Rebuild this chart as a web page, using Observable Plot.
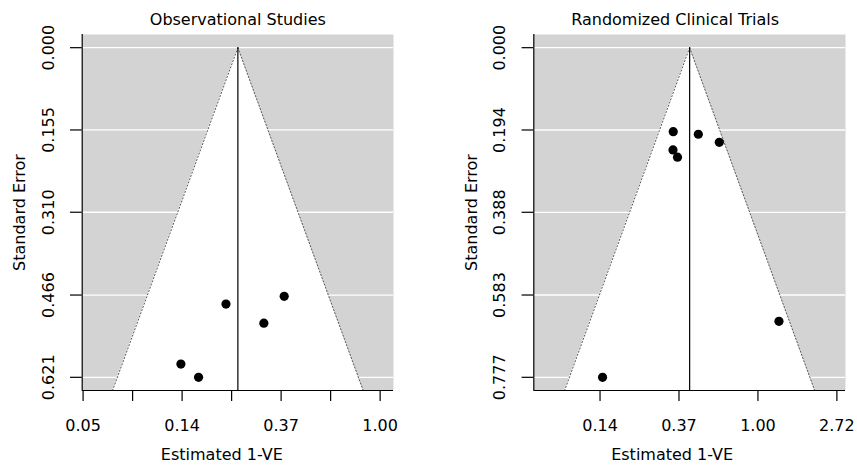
<!DOCTYPE html>
<html>
<head>
<meta charset="utf-8">
<script src="https://cdn.jsdelivr.net/npm/d3@7"></script>
<script src="https://cdn.jsdelivr.net/npm/@observablehq/plot@0.6"></script>
<style>
  html, body { margin: 0; padding: 0; background: white; }
  #wrap { display: flex; width: 857px; height: 466px; }
  #wrap svg { display: block; }
</style>
</head>
<body>
<div id="wrap"></div>
<script>
// ---- Observational studies ----
const obsTitle = "Observational Studies";
const obsEstimate = [0.2108, 0.3795, 0.309, 0.1337, 0.1598];   // estimated 1-VE
const obsSE = [0.483, 0.4685, 0.519, 0.596, 0.621];            // standard error
const obsPooled = 0.2377;
const obsYTicks = [0, 0.155, 0.310, 0.466, 0.621];
const obsXTickLogs = [-3, -2.5, -2, -1.5, -1, -0.5, 0];
const obsXTickLabels = ["0.05", "", "0.14", "", "0.37", "", "1.00"];
const obsXLogDomain = [-3.009, 0.135];

// ---- Randomized clinical trials ----
const rctTitle = "Randomized Clinical Trials";
const rctEstimate = [0.342, 0.470, 0.613, 0.341, 0.361, 1.305, 0.1397];
const rctSE = [0.198, 0.204, 0.223, 0.241, 0.258, 0.645, 0.777];
const rctPooled = 0.421;
const rctYTicks = [0, 0.194, 0.388, 0.583, 0.777];
const rctXTickLogs = [-2, -1, 0, 1];
const rctXTickLabels = ["0.14", "0.37", "1.00", "2.72"];
const rctXLogDomain = [-2.839, 1.109];

const xLabel = "Estimated 1-VE";
const yLabel = "Standard Error";
const FONT = "DejaVu Sans";

function panel(o) {
  const pts = o.est.map((e, i) => ({est: e, se: o.se[i]}));
  const yMax = o.yTicks[o.yTicks.length - 1];
  const yDomain = [-0.04 * yMax, 1.04 * yMax];
  const funnel = [0, yDomain[1]].map(s => ({
    se: s,
    lo: o.pooled * Math.exp(-1.96 * s),
    hi: o.pooled * Math.exp(1.96 * s)
  }));
  const xTicks = o.xTickLogs.map(Math.exp);
  const xFmt = new Map(xTicks.map((t, i) => [t, o.xTickLabels[i]]));
  const xDomain = o.xLogDomain.map(Math.exp);
  return Plot.plot({
    width: o.width,
    height: 466,
    marginTop: 34,
    marginBottom: 76,
    marginLeft: o.marginLeft,
    marginRight: o.marginRight,
    style: {fontFamily: FONT, fontSize: "16px", color: "black", background: "white", overflow: "visible"},
    x: {type: "log", domain: xDomain},
    y: {domain: yDomain, reverse: true},
    marks: [
      Plot.frame({fill: "#d3d3d3", stroke: "none"}),
      Plot.ruleY(o.yTicks, {stroke: "white", strokeWidth: 1.3}),
      Plot.areaX(funnel, {y: "se", x1: "lo", x2: "hi", fill: "white"}),
      Plot.line(funnel, {x: "lo", y: "se", stroke: "#555", strokeWidth: 1, strokeDasharray: "1.2,2.2"}),
      Plot.line(funnel, {x: "hi", y: "se", stroke: "#555", strokeWidth: 1, strokeDasharray: "1.2,2.2"}),
      Plot.ruleX([o.pooled], {y1: 0, y2: yDomain[1], stroke: "black", strokeWidth: 1.2}),
      Plot.dot(pts, {x: "est", y: "se", r: 4.6, fill: "black", stroke: "none"}),
      Plot.ruleX([xDomain[0]], {stroke: "black", strokeWidth: 1.2}),
      Plot.ruleY([yDomain[1]], {stroke: "black", strokeWidth: 1.2}),
      Plot.axisY({ticks: o.yTicks, tickSize: 11.7, tickPadding: 16.7, tickRotate: -90,
                  tickFormat: d3.format(".3f"), label: null, strokeWidth: 1.2}),
      Plot.axisX({ticks: xTicks, tickSize: 11, tickPadding: 18.6,
                  tickFormat: d => xFmt.get(d) ?? "", label: null, strokeWidth: 1.2}),
      Plot.text([o.title], {frameAnchor: "top", dy: -10, dx: o.titleDx, lineAnchor: "bottom", textAnchor: "middle"}),
      Plot.text([xLabel], {frameAnchor: "bottom", dy: 69, dx: o.xlabDx, lineAnchor: "bottom", textAnchor: "middle"}),
      Plot.text([yLabel], {frameAnchor: "left", dx: -56.7, rotate: -90, lineAnchor: "bottom", textAnchor: "middle"})
    ]
  });
}

const wrap = document.getElementById("wrap");
wrap.appendChild(panel({
  est: obsEstimate, se: obsSE, pooled: obsPooled, yTicks: obsYTicks,
  xTickLogs: obsXTickLogs, xTickLabels: obsXTickLabels, xLogDomain: obsXLogDomain,
  title: obsTitle, titleDx: 0, xlabDx: -16,
  width: 428, marginLeft: 81.7, marginRight: 35
}));
wrap.appendChild(panel({
  est: rctEstimate, se: rctSE, pooled: rctPooled, yTicks: rctYTicks,
  xTickLogs: rctXTickLogs, xTickLabels: rctXTickLabels, xLogDomain: rctXLogDomain,
  title: rctTitle, titleDx: -14.5, xlabDx: -17.5,
  width: 429, marginLeft: 105.3, marginRight: 12
}));
</script>
</body>
</html>
